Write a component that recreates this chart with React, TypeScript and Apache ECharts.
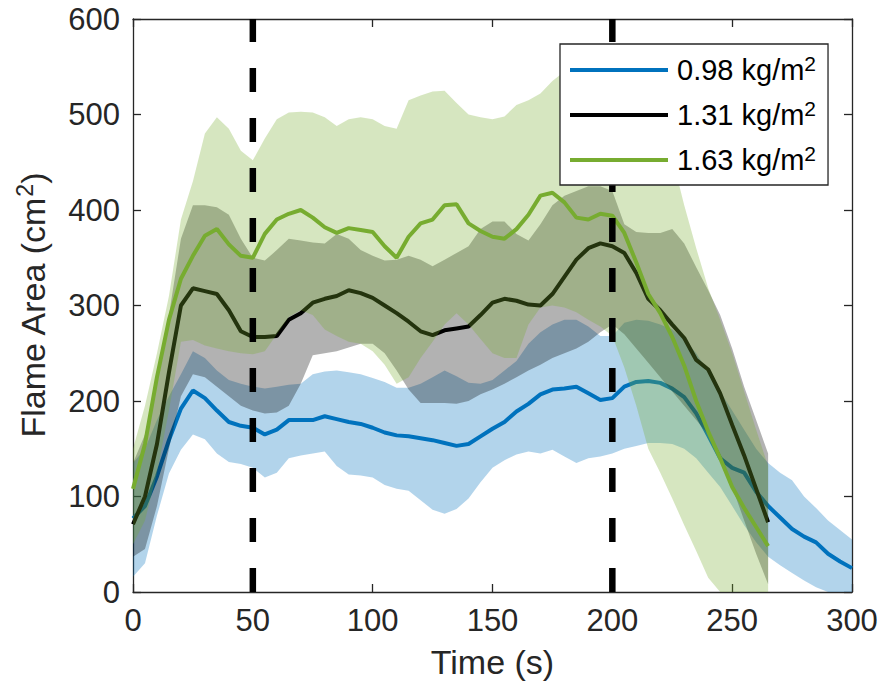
import React, { useEffect, useRef } from "react";
import * as echarts from "echarts";

// time stamps (s)
const timeBlue = [0,5,10,15,20,25,30,35,40,45,50,55,60,65,70,75,80,85,90,95,100,105,110,115,120,125,130,135,140,145,150,155,160,165,170,175,180,185,190,195,200,205,210,215,220,225,230,235,240,245,250,255,260,265,270,275,280,285,290,295,300];
const timeOther = [0,5,10,15,20,25,30,35,40,45,50,55,60,65,70,75,80,85,90,95,100,105,110,115,120,125,130,135,140,145,150,155,160,165,170,175,180,185,190,195,200,205,210,215,220,225,230,235,240,245,250,255,260,265];

// 0.98 kg/m2
const blueMean = [77,90,121,159,192,211,203,190,178,174,172,165,170,180,180,180,184,181,178,176,172,167,164,163,161,159,156,153,155,163,171,178,189,197,207,212,213,215,208,201,203,215,220,221,219,213,204,187,164,140,130,125,105,90,78,66,58,52,40,32,25];
const blueLower = [16,30,80,124,149,165,160,145,136,134,130,120,125,140,143,145,147,132,123,122,120,112,108,106,96,86,82,87,98,115,130,138,144,147,145,149,142,135,140,142,145,150,153,156,156,155,150,140,125,110,90,70,52,37,28,20,12,5,0,0,0];
const blueUpper = [135,150,180,205,228,252,245,232,222,218,215,213,215,217,218,228,231,232,230,228,224,220,214,214,218,225,232,226,219,218,222,232,242,260,272,280,285,285,278,268,268,282,285,284,280,275,265,250,230,210,190,170,150,135,125,117,100,88,75,65,55];

// 1.31 kg/m2
const blackMean = [71,100,155,230,300,318,315,312,295,273,267,267,268,285,292,303,307,310,316,313,308,300,292,283,273,269,274,276,278,290,303,307,305,301,300,312,330,348,360,365,362,355,334,307,295,280,266,243,233,208,175,143,108,73];
const blackLower = [37,45,90,150,205,228,225,215,205,195,190,187,188,195,218,248,250,252,256,260,260,250,232,212,198,198,198,197,200,207,212,218,225,232,238,245,250,255,262,272,280,270,255,240,225,210,195,180,165,140,110,75,40,8];
const blackUpper = [135,165,220,290,370,405,405,403,395,370,350,347,358,370,368,366,365,375,370,358,352,347,348,352,348,341,348,355,362,380,388,388,375,368,385,405,415,420,425,425,420,385,377,376,376,380,365,340,316,290,255,215,180,145];

// 1.63 kg/m2
const greenMean = [108,155,225,285,328,352,373,380,364,352,350,375,390,396,400,392,382,376,381,379,377,362,350,372,386,390,405,406,386,378,372,370,380,395,415,418,408,392,390,396,394,376,345,312,292,267,237,200,168,140,110,88,68,48];
const greenLower = [50,75,125,190,262,264,258,255,252,250,249,252,270,288,295,290,275,268,262,260,252,238,218,225,245,262,280,292,280,265,250,245,245,280,298,300,298,293,285,278,268,235,195,150,125,98,70,43,15,0,0,0,0,0];
const greenUpper = [150,195,250,310,390,430,480,497,485,462,452,475,495,502,503,502,497,488,495,497,495,488,485,515,520,524,525,512,500,497,495,498,510,515,522,535,545,550,550,548,545,545,540,530,500,455,405,360,318,285,250,210,170,132];

// vertical markers (s)
const markerTimes = [50, 200];

const seriesNames = ["0.98 kg/m{sup|2}", "1.31 kg/m{sup|2}", "1.63 kg/m{sup|2}"];
const legendNames = ["0.98 kg/m2", "1.31 kg/m2", "1.63 kg/m2"];

const FONT = "'Liberation Sans', Arial, Helvetica, sans-serif";
const AX = "#262626";

function band(name: string, time: number[], lower: number[], upper: number[], color: string, z: number) {
  return {
    type: "custom",
    name,
    z,
    silent: true,
    clip: true,
    data: time.map((t, i) => [t, lower[i], upper[i]]),
    encode: { x: 0, y: [1, 2] },
    renderItem: (params: any, api: any) => {
      if (params.dataIndex !== 0) return null;
      const pts: number[][] = [];
      for (let i = 0; i < time.length; i++) pts.push(api.coord([time[i], upper[i]]));
      for (let i = time.length - 1; i >= 0; i--) pts.push(api.coord([time[i], lower[i]]));
      return { type: "polygon", shape: { points: pts }, style: { fill: color } };
    },
  };
}

function line(name: string, time: number[], vals: number[], color: string, z: number) {
  return {
    type: "line",
    name,
    z,
    data: time.map((t, i) => [t, vals[i]]),
    showSymbol: false,
    symbol: "none",
    lineStyle: { width: 4, color },
    itemStyle: { color },
    silent: true,
  };
}

export default function App() {
  const ref = useRef<HTMLDivElement>(null);
  useEffect(() => {
    document.body.style.margin = "0";
    const chart = echarts.init(ref.current as HTMLDivElement, null, { renderer: "svg" });
    const axisCommon = {
      type: "value",
      axisLine: { show: true, onZero: false, lineStyle: { color: AX, width: 1.3 } },
      axisTick: { show: true, inside: true, length: 8, lineStyle: { color: AX, width: 1.3 } },
      splitLine: { show: false },
    };
    const option: any = {
      animation: false,
      backgroundColor: "#fff",
      grid: { left: 133, right: 30, top: 19, bottom: 95 },
      xAxis: [
        {
          ...axisCommon,
          min: 0, max: 300, interval: 50, position: "bottom",
          axisLabel: { fontSize: 31, color: AX, fontFamily: FONT, margin: 13 },
          name: "Time (s)", nameLocation: "middle", nameGap: 53,
          nameTextStyle: { fontSize: 34, color: AX, fontFamily: FONT },
        },
        {
          ...axisCommon,
          min: 0, max: 300, interval: 50, position: "top",
          axisLabel: { show: false },
        },
      ],
      yAxis: [
        {
          ...axisCommon,
          min: 0, max: 600, interval: 100, position: "left",
          axisLabel: { fontSize: 31, color: AX, fontFamily: FONT, margin: 13 },
          name: "Flame Area (cm{sup|2})", nameLocation: "middle", nameGap: 80,
          nameTextStyle: {
            fontSize: 34, color: AX, fontFamily: FONT, lineHeight: 40,
            rich: { sup: { fontSize: 23, lineHeight: 22, verticalAlign: "top", fontFamily: FONT, color: AX } },
          },
        },
        {
          ...axisCommon,
          min: 0, max: 600, interval: 100, position: "right",
          axisLabel: { show: false },
        },
      ],
      legend: {
        data: legendNames,
        orient: "vertical",
        left: 560,
        top: 44,
        itemWidth: 98,
        itemHeight: 4,
        icon: "rect",
        itemGap: 11,
        padding: [9, 12, 8, 10],
        borderColor: AX,
        borderWidth: 1.3,
        backgroundColor: "#fff",
        selectedMode: false,
        z: 30,
        formatter: (n: string) => seriesNames[legendNames.indexOf(n)],
        textStyle: {
          fontSize: 29, color: "#000", fontFamily: FONT, lineHeight: 34, padding: [0, 0, 0, 4],
          rich: { sup: { fontSize: 21, lineHeight: 20, verticalAlign: "top", fontFamily: FONT, color: "#000" } },
        },
      },
      series: [
        band("band1", timeBlue, blueLower, blueUpper, "rgba(0,114,189,0.3)", 1),
        line(legendNames[0], timeBlue, blueMean, "#0072BD", 2),
        band("band2", timeOther, blackLower, blackUpper, "rgba(0,0,0,0.3)", 3),
        line(legendNames[1], timeOther, blackMean, "#000000", 4),
        band("band3", timeOther, greenLower, greenUpper, "rgba(119,172,48,0.3)", 5),
        line(legendNames[2], timeOther, greenMean, "#77AC30", 6),
        ...markerTimes.map((t) => ({
          type: "line",
          name: "marker" + t,
          z: 10,
          silent: true,
          data: [[t, 0], [t, 600]],
          showSymbol: false,
          symbol: "none",
          lineStyle: { color: "#000", width: 6.5, type: [24, 26] },
        })),
      ],
    };
    chart.setOption(option);
    return () => chart.dispose();
  }, []);
  return <div ref={ref} style={{ width: 882, height: 687 }} />;
}
